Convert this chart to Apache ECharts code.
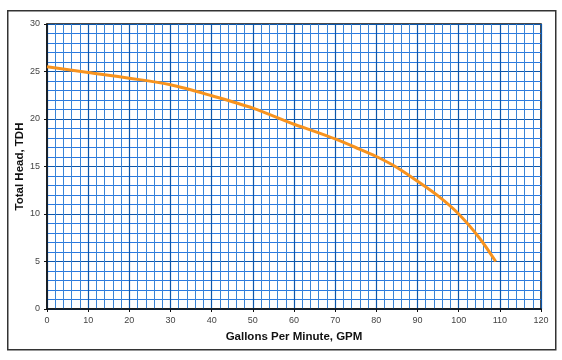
<!DOCTYPE html>
<html>
<head>
<meta charset="utf-8">
<script src="https://cdn.jsdelivr.net/npm/echarts@6/dist/echarts.min.js"></script>
<style>
html,body{margin:0;padding:0;background:#fff;}
#c{width:562px;height:360px;}
</style>
</head>
<body>
<div id="c"></div>
<script>
const gpm = [0, 10, 20, 30, 40, 50, 60, 65, 70, 75, 80, 85, 90, 95, 100, 105, 109];
const tdh = [25.5, 24.9, 24.3, 23.6, 22.45, 21.15, 19.45, 18.7, 17.9, 17.0, 16.05, 14.9, 13.45, 11.9, 10.0, 7.5, 5.0];
const xTitle = 'Gallons Per Minute, GPM';
const yTitle = 'Total Head, TDH';

const chart = echarts.init(document.getElementById('c'), null, {renderer: 'canvas'});
chart.setOption({
  animation: false,
  backgroundColor: '#fff',
  graphic: [{
    type: 'rect', left: 7, top: 10, z: -1,
    shape: {width: 548, height: 339},
    style: {fill: '#fff', stroke: '#333', lineWidth: 1.5}
  }],
  grid: {left: 47, right: 21, top: 24, bottom: 51, show: true, borderColor: '#111', borderWidth: 1.5, backgroundColor: 'transparent'},
  xAxis: {
    type: 'value', min: 0, max: 120, interval: 10,
    name: xTitle, nameLocation: 'middle', nameGap: 22, nameMoveOverlap: false,
    nameTextStyle: {fontFamily: 'Liberation Sans', fontWeight: 'bold', fontSize: 11.5, color: '#111'},
    axisLine: {lineStyle: {color: '#111', width: 1.5}},
    axisTick: {show: true, length: 3, lineStyle: {color: '#111'}},
    axisLabel: {fontFamily: 'Liberation Sans', fontSize: 9, color: '#444', margin: 7},
    splitLine: {show: true, lineStyle: {color: '#0d57ab', width: 1.2}},
    minorTick: {show: false, splitNumber: 5},
    minorSplitLine: {show: true, lineStyle: {color: '#3a84d6', width: 1}}
  },
  yAxis: {
    type: 'value', min: 0, max: 30, interval: 5,
    name: yTitle, nameLocation: 'middle', nameGap: 21, nameRotate: 90, nameMoveOverlap: false,
    nameTextStyle: {fontFamily: 'Liberation Sans', fontWeight: 'bold', fontSize: 11.5, color: '#111'},
    axisLine: {show: true, lineStyle: {color: '#111', width: 1.5}},
    axisTick: {show: true, length: 3, lineStyle: {color: '#111'}},
    axisLabel: {fontFamily: 'Liberation Sans', fontSize: 9, color: '#444', margin: 7},
    splitLine: {show: true, lineStyle: {color: '#0d57ab', width: 1.2}},
    minorTick: {show: false, splitNumber: 5},
    minorSplitLine: {show: true, lineStyle: {color: '#2a7ae0', width: 1}}
  },
  series: [{
    type: 'line', data: gpm.map((x, i) => [x, tdh[i]]),
    smooth: 0.3, symbol: 'none',
    lineStyle: {color: '#f7931e', width: 3}
  }]
});
</script>
</body>
</html>
